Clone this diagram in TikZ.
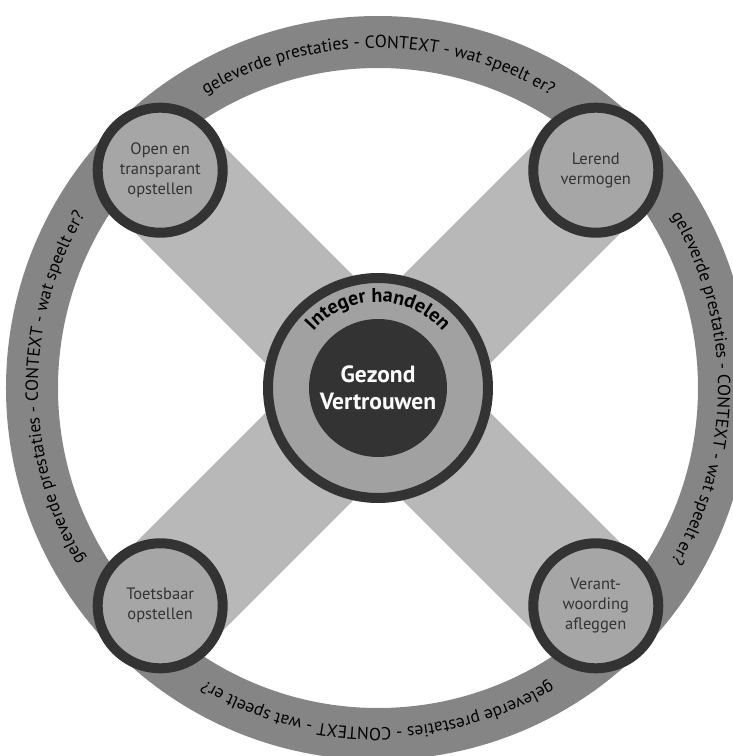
\documentclass[tikz,border=0pt]{standalone}
\usepackage{fontspec}
\setmainfont{PT Sans}
\usetikzlibrary{decorations.text,backgrounds}
\definecolor{ringgrey}{gray}{0.52}
\definecolor{bandgrey}{gray}{0.72}
\definecolor{fillgrey}{gray}{0.65}
\definecolor{edgegrey}{gray}{0.2}
\tikzset{
  pillar/.style={circle, draw=edgegrey, line width=10pt, fill=fillgrey, minimum size=125pt, inner sep=0pt, align=center, text=edgegrey, font=\fontsize{16.5}{20}\selectfont},
  band/.style={draw=bandgrey, line width=124pt},
  ringtext/.style={decorate, decoration={text along path, text align=center,
    text={|\fontsize{17.5}{17.5}\selectfont|geleverde prestaties - CONTEXT - wat speelt er?}}}
}

\begin{document}
\begin{tikzpicture}[x=1pt, y=1pt]
  \useasboundingbox (-378,-368) rectangle (354,388);
  % four pillars on the ring
  \node[pillar] (open) at (135:308) {Open en\\transparant\\opstellen};
  \node[pillar] (lerend) at (45:308) {Lerend\\vermogen};
  \node[pillar] (toets) at (225:308) {Toetsbaar\\opstellen};
  \node[pillar] (verant) at (-45:308) {Verant-\\woording\\afleggen};
  % core
  \node[circle, draw=edgegrey, line width=10pt, fill=fillgrey!105, minimum size=220pt] (integer) at (0,0) {};
  \node[circle, fill=edgegrey, minimum size=138pt, inner sep=0pt, align=center, text=white, font=\bfseries\fontsize{23.5}{27}\selectfont] (trust) at (0,0) {Gezond\\Vertrouwen};
  \path[decorate, decoration={text along path, text align=center, text={|\bfseries\fontsize{20}{20}\selectfont|Integer handelen}}]
    (155:86) arc[start angle=155, end angle=25, radius=86];
  \begin{scope}[on background layer]
    \draw[ringgrey, line width=52pt] (0,0) circle[radius=346];
    \draw[band] (open.center) -- (verant.center);
    \draw[band] (lerend.center) -- (toets.center);
  \end{scope}
  % context text round the ring
  \foreach \a in {90,0,-90,-180}
    \path[ringtext] ({\a+45}:340) arc[start angle=\a+45, end angle=\a-45, radius=340];
\end{tikzpicture}
\end{document}
